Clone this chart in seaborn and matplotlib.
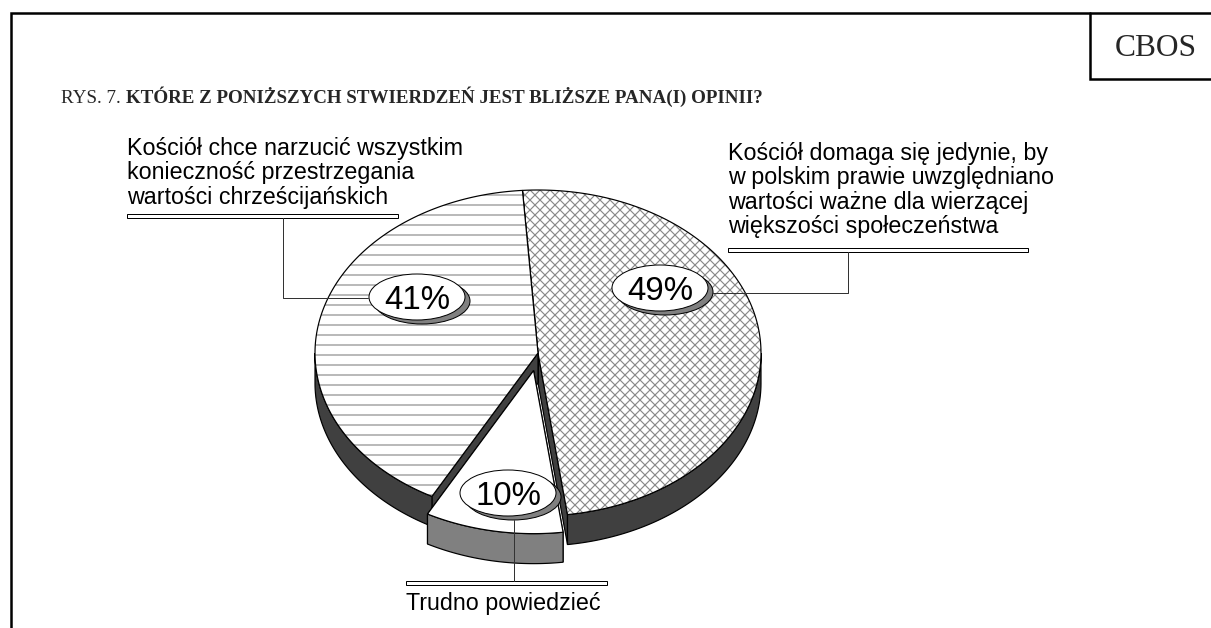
import numpy as np
import matplotlib.pyplot as plt
import seaborn as sns
from matplotlib.patches import Polygon, Ellipse, Rectangle

# dane z wykresu (CBOS, rys. 7)
kategorie = ['Kościół domaga się jedynie, by w polskim prawie uwzględniano wartości ważne dla wierzącej większości społeczeństwa',
             'Trudno powiedzieć',
             'Kościół chce narzucić wszystkim konieczność przestrzegania wartości chrześcijańskich']
wartosci = [49, 10, 41]
linie_etykiet = [['Kościół domaga się jedynie, by', 'w polskim prawie uwzględniano',
                  'wartości ważne dla wierzącej', 'większości społeczeństwa'],
                 ['Trudno powiedzieć'],
                 ['Kościół chce narzucić wszystkim', 'konieczność przestrzegania',
                  'wartości chrześcijańskich']]
tytul_nr = 'RYS. 7.'
tytul = 'KTÓRE Z PONIŻSZYCH STWIERDZEŃ JEST BLIŻSZE PANA(I) OPINII?'

# wyglad
wysuniecie = [0.0, 0.11, 0.0]
kreskowanie = ['xx', None, '-']
kolor_boku = ['#404040', '#808080', '#404040']

W, H, DPI = 1211, 628, 60
PT = 72 / DPI  # punkty na piksel

sns.set_theme(style='white')
plt.rcParams['font.family'] = ['Liberation Sans', 'DejaVu Sans']
plt.rcParams['hatch.linewidth'] = 1.4

fig = plt.figure(figsize=(W / DPI, H / DPI), dpi=DPI)
ax = fig.add_axes([0, 0, 1, 1])
ax.set_xlim(0, W)
ax.set_ylim(H, 0)
ax.axis('off')

CX, CY, RX, RY, GLEB = 538, 353, 223, 163, 30
START = 94


def luk(cx, cy, a, b, dy=0):
    t = np.radians(np.linspace(a, b, 150))
    return np.column_stack([cx + RX * np.cos(t), cy - RY * np.sin(t) + dy])


katy = []
koniec = START
for v in wartosci:
    katy.append((koniec - v * 3.6, koniec))
    koniec -= v * 3.6

kolejnosc = sorted(range(len(wartosci)), key=lambda i: wysuniecie[i])
for i in kolejnosc:
    a, b = katy[i]
    m = np.radians((a + b) / 2)
    cx = CX + wysuniecie[i] * RX * np.cos(m)
    cy = CY - wysuniecie[i] * RY * np.sin(m)
    # sciany boczne przy cieciu
    for phi in (a, b):
        p = luk(cx, cy, phi, phi)[0]
        ax.add_patch(Polygon([[cx, cy], p, p + [0, GLEB], [cx, cy + GLEB]],
                             facecolor=kolor_boku[i], edgecolor='black', lw=1.2 * PT))
    # bok zewnetrzny (tylko przednia polowa)
    for k in (-1, 0, 1):
        lo, hi = max(a, -180 + 360 * k), min(b, 360 * k)
        if lo < hi:
            gora = luk(cx, cy, lo, hi)
            dol = luk(cx, cy, hi, lo, GLEB)
            ax.add_patch(Polygon(np.vstack([gora, dol]), facecolor=kolor_boku[i],
                                 edgecolor='black', lw=1.2 * PT))
    # wierzch
    wierzch = np.vstack([[cx, cy], luk(cx, cy, a, b)])
    ax.add_patch(Polygon(wierzch, facecolor='white', edgecolor='#8a8a8a', lw=0,
                         hatch=kreskowanie[i]))
    ax.add_patch(Polygon(wierzch, fill=False, edgecolor='black', lw=1.2 * PT))

# etykiety procentowe w elipsach
poz_proc = [(660, 288), (508, 493), (417, 297)]
for v, (x, y) in zip(wartosci, poz_proc):
    ax.add_patch(Ellipse((x + 5, y + 4), 96, 46, facecolor='#808080', edgecolor='black', lw=1 * PT))
    ax.add_patch(Ellipse((x, y), 96, 46, facecolor='white', edgecolor='black', lw=1 * PT))
    ax.text(x, y + 12, f'{v}%', ha='center', va='baseline', fontsize=33 * PT, color='black')

# opisy kategorii z podkresleniem i liniami odniesienia
opis_x = [728, 406, 127]
opis_y = [160, 610, 155]
podkr = [(728, 1028, 248), (406, 607, 581), (127, 398, 214)]
odnies = [[(848, 252), (848, 293), (713, 293)],
          [(514, 520), (514, 581)],
          [(283, 218), (283, 298), (368, 298)]]
for i in range(len(wartosci)):
    for j, linia in enumerate(linie_etykiet[i]):
        ax.text(opis_x[i], opis_y[i] + j * 24.3, linia, ha='left', va='baseline',
                fontsize=23.3 * PT, color='black')
    x0, x1, y0 = podkr[i]
    ax.add_patch(Rectangle((x0, y0), x1 - x0, 4, facecolor='white', edgecolor='black', lw=1 * PT))
    xs, ys = zip(*odnies[i])
    ax.plot(xs, ys, color='#333333', lw=1 * PT)

# tytul
t1 = ax.text(61, 103, tytul_nr, family='Liberation Serif', fontsize=19 * PT, va='baseline')
ax.annotate(tytul, xy=(1, 0), xycoords=t1, xytext=(5 * PT, 0), textcoords='offset points',
            family='Liberation Serif', fontweight='bold', fontsize=19 * PT, va='bottom', ha='left')

# ramka i znak CBOS
ax.plot([11, 11, W], [H, 13, 13], color='black', lw=2.5 * PT, solid_joinstyle='miter')
ax.plot([1090, 1090, W], [13, 79, 79], color='black', lw=2.5 * PT, solid_joinstyle='miter')
ax.text(1156, 56, 'CBOS', family='Liberation Serif', fontsize=31.5 * PT, ha='center', va='baseline')

fig.savefig('out.png', dpi=DPI)
